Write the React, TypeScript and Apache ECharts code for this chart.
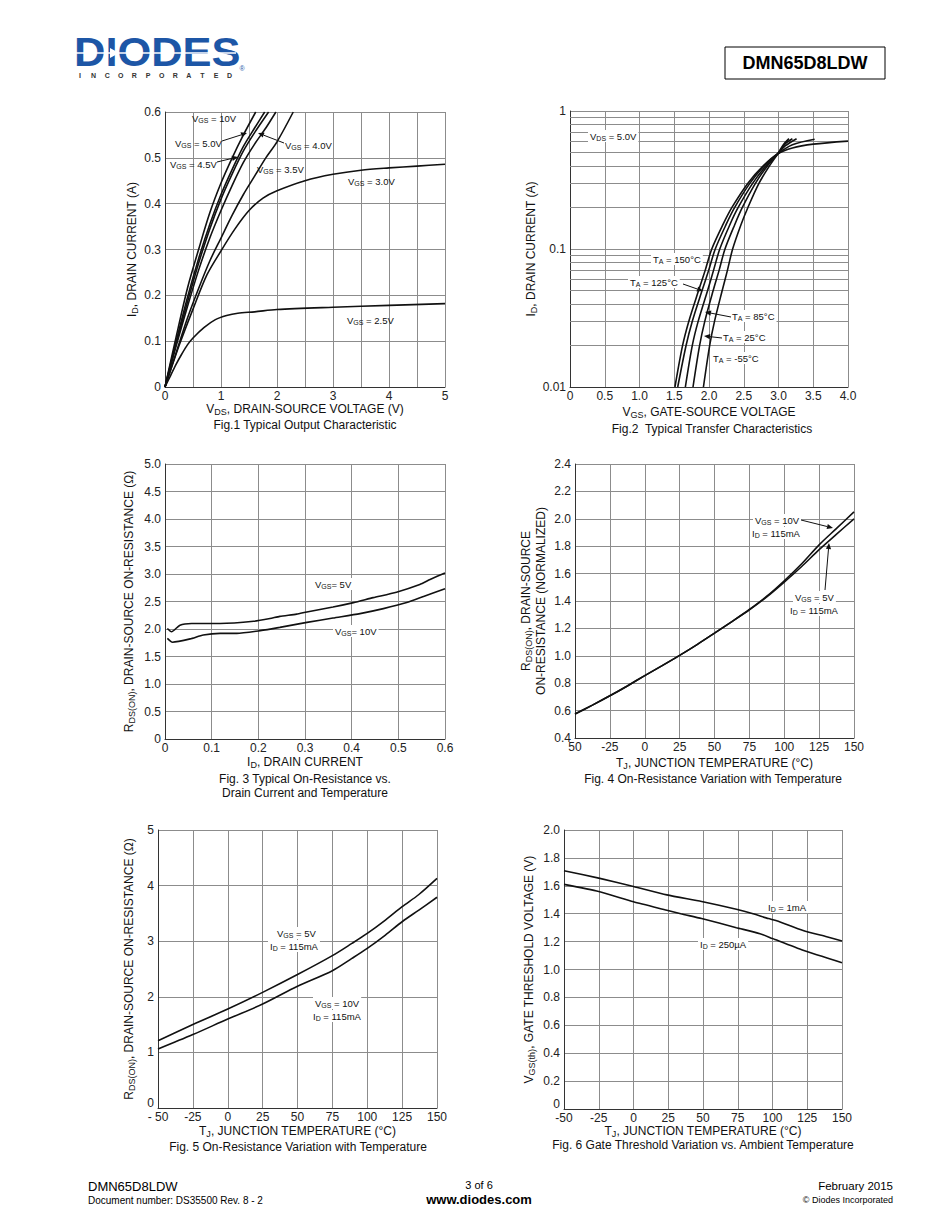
import React, { useEffect, useRef } from "react";
import * as echarts from "echarts";

const FONT = '"Liberation Sans", Arial, Helvetica, sans-serif';
const INK = "#111111";
const GRIDC = "#8c8c8c";

// ---------- Fig 1: [VDS (V), ID (A)] ----------
const fig1Vgs10 = [[0, 0], [0.2, 0.11], [0.4, 0.215], [0.6, 0.3], [0.8, 0.38], [1.0, 0.445], [1.2, 0.5], [1.4, 0.55], [1.62, 0.6]];
const fig1Vgs50 = [[0, 0], [0.2, 0.1], [0.4, 0.195], [0.6, 0.28], [0.8, 0.355], [1.0, 0.42], [1.2, 0.475], [1.4, 0.525], [1.6, 0.565], [1.78, 0.6]];
const fig1Vgs45 = [[0, 0], [0.2, 0.095], [0.4, 0.185], [0.6, 0.27], [0.8, 0.345], [1.0, 0.41], [1.2, 0.465], [1.4, 0.515], [1.6, 0.555], [1.85, 0.6]];
const fig1Vgs40 = [[0, 0], [0.2, 0.09], [0.4, 0.175], [0.6, 0.255], [0.8, 0.325], [1.0, 0.385], [1.2, 0.44], [1.4, 0.49], [1.6, 0.53], [1.8, 0.565], [1.98, 0.6]];
const fig1Vgs35 = [[0, 0], [0.2, 0.075], [0.4, 0.15], [0.6, 0.215], [0.8, 0.275], [1.0, 0.325], [1.2, 0.375], [1.4, 0.42], [1.6, 0.46], [1.8, 0.5], [2.0, 0.535], [2.29, 0.6]];
const fig1Vgs30 = [[0, 0], [0.25, 0.09], [0.5, 0.17], [0.75, 0.245], [1.0, 0.297], [1.25, 0.345], [1.5, 0.385], [1.75, 0.412], [2.0, 0.428], [2.5, 0.45], [3.0, 0.464], [3.5, 0.473], [4.0, 0.478], [4.5, 0.482], [5.0, 0.486]];
const fig1Vgs25 = [[0, 0], [0.1, 0.025], [0.2, 0.05], [0.3, 0.072], [0.4, 0.092], [0.5, 0.107], [0.7, 0.13], [0.9, 0.147], [1.1, 0.156], [1.3, 0.161], [1.6, 0.164], [2.0, 0.169], [3.0, 0.174], [4.0, 0.178], [5.0, 0.182]];

// ---------- Fig 2: [VGS (V), ID (A)] ----------
const fig2T150 = [[1.51, 0.01], [1.62, 0.02], [1.71, 0.03], [1.85, 0.05], [1.945, 0.07], [2.04, 0.1], [2.2, 0.15], [2.33, 0.2], [2.56, 0.3], [2.78, 0.4], [2.99, 0.49], [3.2, 0.54], [3.5, 0.575], [4.0, 0.605]];
const fig2T125 = [[1.55, 0.01], [1.67, 0.02], [1.76, 0.03], [1.9, 0.05], [1.995, 0.07], [2.09, 0.1], [2.245, 0.15], [2.37, 0.2], [2.59, 0.3], [2.795, 0.4], [2.99, 0.49], [3.2, 0.57], [3.52, 0.625]];
const fig2T85 = [[1.66, 0.01], [1.76, 0.02], [1.845, 0.03], [1.98, 0.05], [2.065, 0.07], [2.155, 0.1], [2.3, 0.15], [2.42, 0.2], [2.63, 0.3], [2.82, 0.4], [2.99, 0.49], [3.1, 0.56], [3.26, 0.63]];
const fig2T25 = [[1.77, 0.01], [1.865, 0.02], [1.94, 0.03], [2.06, 0.05], [2.145, 0.07], [2.23, 0.1], [2.37, 0.15], [2.48, 0.2], [2.67, 0.3], [2.84, 0.4], [2.99, 0.49], [3.1, 0.58], [3.2, 0.63]];
const fig2Tm55 = [[1.92, 0.01], [2.01, 0.02], [2.08, 0.03], [2.19, 0.05], [2.265, 0.07], [2.34, 0.1], [2.46, 0.15], [2.56, 0.2], [2.72, 0.3], [2.87, 0.4], [2.99, 0.49], [3.07, 0.57], [3.15, 0.63]];
const fig2MinorGrid = [0.02, 0.03, 0.04, 0.05, 0.06, 0.07, 0.08, 0.09, 0.2, 0.3, 0.4, 0.5, 0.6, 0.7, 0.8, 0.9];

// ---------- Fig 3: [ID (A), RDS(ON) (ohm)] ----------
const fig3Vgs5 = [[0.005, 2.01], [0.014, 1.95], [0.032, 2.07], [0.057, 2.1], [0.118, 2.1], [0.19, 2.14], [0.225, 2.19], [0.246, 2.23], [0.282, 2.27], [0.304, 2.31], [0.36, 2.4], [0.404, 2.48], [0.446, 2.57], [0.496, 2.67], [0.546, 2.81], [0.568, 2.9], [0.6, 3.02]];
const fig3Vgs10 = [[0.005, 1.83], [0.016, 1.76], [0.054, 1.82], [0.082, 1.89], [0.118, 1.92], [0.154, 1.92], [0.204, 1.97], [0.246, 2.03], [0.304, 2.12], [0.36, 2.2], [0.418, 2.28], [0.468, 2.37], [0.518, 2.48], [0.554, 2.59], [0.6, 2.73]];

// ---------- Fig 4: normalized RDS(ON) vs TJ ----------
const fig4Temp = [-50, -37.5, -25, -12.5, 0, 12.5, 25, 37.5, 50, 62.5, 75, 87.5, 100, 112.5, 125, 137.5, 150];
const fig4Vgs10 = [0.575, 0.64, 0.708, 0.78, 0.855, 0.928, 1.003, 1.082, 1.165, 1.25, 1.338, 1.435, 1.548, 1.672, 1.81, 1.93, 2.05];
const fig4Vgs5 = [0.575, 0.64, 0.708, 0.78, 0.855, 0.928, 1.003, 1.082, 1.165, 1.25, 1.335, 1.43, 1.538, 1.652, 1.775, 1.888, 2.0];

// ---------- Fig 5: RDS(ON) vs TJ ----------
const fig5Vgs5 = [[-50, 1.21], [-25, 1.5], [0, 1.78], [25, 2.08], [50, 2.4], [75, 2.74], [89, 2.96], [100, 3.14], [113, 3.38], [125, 3.62], [137, 3.84], [150, 4.13]];
const fig5Vgs10 = [[-50, 1.06], [-25, 1.32], [0, 1.6], [25, 1.87], [50, 2.19], [75, 2.47], [89, 2.69], [100, 2.87], [113, 3.11], [125, 3.35], [137, 3.56], [150, 3.79]];

// ---------- Fig 6: VGS(th) vs TJ ----------
const fig6Id1mA = [[-50, 1.708], [-25, 1.655], [0, 1.595], [24, 1.535], [49, 1.487], [74, 1.432], [86, 1.4], [97, 1.365], [103, 1.35], [122, 1.28], [139, 1.235], [150, 1.205]];
const fig6Id250uA = [[-50, 1.61], [-25, 1.559], [0, 1.485], [24, 1.425], [34, 1.4], [49, 1.365], [74, 1.3], [91, 1.257], [100, 1.222], [122, 1.138], [150, 1.049]];

// tick label texts
const tempTicksFig4: Record<string, string> = { "-50": "50" };
const tempTicksFig5: Record<string, string> = { "-50": "- 50" };

const AX_RICH: any = {
  m: { fontSize: 12, fontFamily: FONT, color: INK, lineHeight: 15 },
  s: { fontSize: 9, fontFamily: FONT, color: INK, lineHeight: 9, verticalAlign: "bottom" },
};
const ANN_RICH: any = {
  m: { fontSize: 9.5, fontFamily: FONT, fill: INK, color: INK, lineHeight: 12 },
  s: { fontSize: 7, fontFamily: FONT, fill: INK, color: INK, lineHeight: 7, verticalAlign: "bottom" },
};
const LIFT_RICH: any = {
  lo: { fontSize: 12, fontFamily: FONT, color: "#222", padding: [0, 0, 11, 0] },
};

const sub = (a: string, s: string, b: string) => `{m|${a}}{s|${s}}{m|${b}}`;

function valAxis(gridIndex: number, o: any) {
  return {
    type: "value",
    gridIndex,
    axisLine: { show: true, onZero: false, lineStyle: { color: "#333", width: 1 } },
    axisTick: { show: false },
    axisLabel: { fontFamily: FONT, fontSize: 12, color: "#222", margin: 3 },
    splitLine: { show: true, lineStyle: { color: GRIDC, width: 1 } },
    nameLocation: "middle",
    nameTextStyle: { rich: AX_RICH },
    ...o,
  };
}

function curve(data: any, idx: number, smooth: number | boolean = 0.3) {
  return {
    type: "line",
    xAxisIndex: idx,
    yAxisIndex: idx,
    data,
    showSymbol: false,
    symbol: "none",
    smooth,
    lineStyle: { color: INK, width: 1.6 },
    clip: true,
    silent: true,
    z: 5,
  };
}

function label(x: number, y: number, text: string, bg = false, align = "left") {
  return {
    type: "text",
    x,
    y,
    z: 50,
    silent: true,
    style: {
      text,
      rich: ANN_RICH,
      fill: INK,
      font: `9.5px ${FONT}`,
      align,
      textAlign: align,
      verticalAlign: "middle",
      textVerticalAlign: "middle",
      backgroundColor: bg ? "#ffffff" : undefined,
      padding: bg ? [0, 2, 0, 2] : 0,
    },
  };
}

function plain(x: number, y: number, text: string, font: string, align = "left", fill = INK) {
  return {
    type: "text",
    x,
    y,
    z: 50,
    silent: true,
    style: { text, font, fill, align, textAlign: align, verticalAlign: "middle", textVerticalAlign: "middle" },
  };
}

function arrow(x1: number, y1: number, x2: number, y2: number) {
  const dx = x2 - x1;
  const dy = y2 - y1;
  const len = Math.sqrt(dx * dx + dy * dy) || 1;
  const ux = dx / len;
  const uy = dy / len;
  const nx = -uy;
  const ny = ux;
  const hl = 6;
  const hw = 2.6;
  const bx = x2 - ux * hl;
  const by = y2 - uy * hl;
  return [
    { type: "line", z: 60, silent: true, shape: { x1, y1, x2: bx, y2: by }, style: { stroke: INK, lineWidth: 1 } },
    {
      type: "polygon",
      z: 60,
      silent: true,
      shape: { points: [[x2, y2], [bx + nx * hw, by + ny * hw], [bx - nx * hw, by - ny * hw]] },
      style: { fill: INK },
    },
  ];
}

function buildOption() {
  const grids = [
    { left: 165, top: 112, width: 280, height: 275 },
    { left: 570, top: 111, width: 278, height: 276 },
    { left: 165, top: 464, width: 280, height: 275 },
    { left: 575, top: 464, width: 279, height: 274 },
    { left: 158, top: 830, width: 279, height: 278 },
    { left: 564, top: 830, width: 278, height: 279 },
  ];

  const oneDec = (v: number) => (Math.abs(v) < 1e-9 ? "0" : v.toFixed(1));
  const lbl = (o: any) => ({ fontFamily: FONT, fontSize: 12, color: "#222", ...o });

  const xAxis = [
    valAxis(0, {
      min: 0, max: 5, interval: 0.5,
      axisLabel: lbl({ margin: 3, formatter: (v: number) => (Math.abs(v - Math.round(v)) < 1e-6 ? String(Math.round(v)) : "") }),
      name: sub("V", "DS", ", DRAIN-SOURCE VOLTAGE (V)"), nameGap: 13,
    }),
    valAxis(1, {
      min: 0, max: 4, interval: 0.5,
      axisLabel: lbl({ margin: 3, formatter: oneDec }),
      name: sub("V", "GS", ", GATE-SOURCE VOLTAGE"), nameGap: 17,
    }),
    valAxis(2, {
      min: 0, max: 0.6, interval: 0.1,
      axisLabel: lbl({ margin: 3, formatter: oneDec }),
      name: sub("I", "D", ", DRAIN CURRENT"), nameGap: 15,
    }),
    valAxis(3, {
      min: -50, max: 150, interval: 25,
      axisLabel: lbl({ margin: 3, formatter: (v: number) => tempTicksFig4[String(v)] ?? String(v) }),
      name: sub("T", "J", ", JUNCTION TEMPERATURE (°C)"), nameGap: 17,
    }),
    valAxis(4, {
      min: -50, max: 150, interval: 25,
      axisLabel: lbl({ margin: 3, formatter: (v: number) => tempTicksFig5[String(v)] ?? String(v) }),
      name: sub("T", "J", ", JUNCTION TEMPERATURE (°C)"), nameGap: 15,
    }),
    valAxis(5, {
      min: -50, max: 150, interval: 25,
      axisLabel: lbl({ margin: 3 }),
      name: sub("T", "J", ", JUNCTION TEMPERATURE (°C)"), nameGap: 11,
    }),
  ];

  const yAxis = [
    valAxis(0, {
      min: 0, max: 0.6, interval: 0.1,
      axisLabel: lbl({ margin: 4, formatter: oneDec }),
      name: sub("I", "D", ", DRAIN CURRENT (A)"), nameGap: 26,
    }),
    {
      ...valAxis(1, {
        name: sub("I", "D", ", DRAIN CURRENT (A)"), nameGap: 25,
        axisLabel: lbl({ margin: 4, formatter: (v: number) => (v < 0.05 ? "0.01" : v < 0.5 ? "0.1" : "1") }),
      }),
      type: "log", logBase: 10, min: 0.01, max: 1,
    },
    valAxis(2, {
      min: 0, max: 5, interval: 0.5,
      axisLabel: lbl({ margin: 4, formatter: oneDec }),
      name: sub("R", "DS(ON)", ", DRAIN-SOURCE ON-RESISTANCE (Ω)"), nameGap: 29,
    }),
    valAxis(3, {
      min: 0.4, max: 2.4, interval: 0.2,
      axisLabel: lbl({ margin: 4, formatter: oneDec }),
      name: sub("R", "DS(ON)", ", DRAIN-SOURCE") + "\n{m|ON-RESISTANCE (NORMALIZED)}", nameGap: 27,
    }),
    valAxis(4, {
      min: 0, max: 5, interval: 1,
      axisLabel: lbl({ margin: 4, rich: LIFT_RICH, formatter: (v: number) => (v === 0 ? "{lo|0}" : String(v)) }),
      name: sub("R", "DS(ON)", ", DRAIN-SOURCE ON-RESISTANCE (Ω)"), nameGap: 22,
    }),
    valAxis(5, {
      min: 0, max: 2, interval: 0.2,
      axisLabel: lbl({ margin: 4, rich: LIFT_RICH, formatter: (v: number) => (Math.abs(v) < 1e-9 ? "{lo|0}" : v.toFixed(1)) }),
      name: sub("V", "GS(th)", ", GATE THRESHOLD VOLTAGE (V)"), nameGap: 28,
    }),
  ];

  const zip = (xs: number[], ys: number[]) => xs.map((x, i) => [x, ys[i]]);

  const series: any[] = [
    curve(fig1Vgs10, 0), curve(fig1Vgs50, 0), curve(fig1Vgs45, 0), curve(fig1Vgs40, 0),
    curve(fig1Vgs35, 0), curve(fig1Vgs30, 0), curve(fig1Vgs25, 0),
    {
      type: "line", xAxisIndex: 1, yAxisIndex: 1, data: fig2T150, showSymbol: false, symbol: "none",
      lineStyle: { opacity: 0 }, silent: true, z: 1,
      markLine: {
        silent: true, symbol: ["none", "none"], label: { show: false }, animation: false,
        lineStyle: { color: GRIDC, type: "solid", width: 1 },
        data: fig2MinorGrid.map((v) => ({ yAxis: v })),
      },
    },
    curve(fig2T150, 1), curve(fig2T125, 1), curve(fig2T85, 1), curve(fig2T25, 1), curve(fig2Tm55, 1),
    curve(fig3Vgs5, 2, 0.2), curve(fig3Vgs10, 2, 0.2),
    curve(zip(fig4Temp, fig4Vgs10), 3), curve(zip(fig4Temp, fig4Vgs5), 3),
    curve(fig5Vgs5, 4), curve(fig5Vgs10, 4),
    curve(fig6Id1mA, 5, 0.2), curve(fig6Id250uA, 5, 0.2),
  ];

  const graphics: any[] = [];
  // Fig 1 annotations
  graphics.push(label(192, 118, sub("V", "GS", " = 10V")));
  graphics.push(label(175, 143, sub("V", "GS", " = 5.0V")), ...arrow(222, 141, 247, 133));
  graphics.push(label(170, 164, sub("V", "GS", " = 4.5V")), ...arrow(217, 162, 238, 157));
  graphics.push(label(285, 145, sub("V", "GS", " = 4.0V")), ...arrow(284, 143, 258, 133));
  graphics.push(label(257, 169, sub("V", "GS", " = 3.5V")));
  graphics.push(label(348, 181, sub("V", "GS", " = 3.0V")));
  graphics.push(label(347, 320, sub("V", "GS", " = 2.5V")));
  // Fig 2 annotations
  graphics.push(label(588, 136, sub("V", "DS", " = 5.0V"), true));
  graphics.push(label(651, 259, sub("T", "A", " = 150°C"), true));
  graphics.push(label(628, 282, sub("T", "A", " = 125°C"), true), ...arrow(683, 284, 703, 291));
  graphics.push(label(730, 316, sub("T", "A", " = 85°C"), true), ...arrow(731, 317, 705, 312));
  graphics.push(label(721, 337, sub("T", "A", " = 25°C"), true), ...arrow(722, 338, 704, 336));
  graphics.push(label(711, 358, sub("T", "A", " = -55°C"), true));
  // Fig 3
  graphics.push(label(313, 584, sub("V", "GS", "= 5V"), true));
  graphics.push(label(333, 631, sub("V", "GS", "= 10V"), true));
  // Fig 4
  graphics.push(label(753, 520, sub("V", "GS", " = 10V"), true), label(750, 533, sub("I", "D", " = 115mA"), true));
  graphics.push(...arrow(801, 520, 833, 528));
  graphics.push(label(793, 597, sub("V", "GS", " = 5V"), true), label(788, 610, sub("I", "D", " = 115mA"), true));
  graphics.push(...arrow(825, 590, 829, 543));
  // Fig 5
  graphics.push(label(275, 933, sub("V", "GS", " = 5V"), true), label(268, 946, sub("I", "D", " = 115mA"), true));
  graphics.push(label(313, 1003, sub("V", "GS", " = 10V"), true), label(311, 1016, sub("I", "D", " = 115mA"), true));
  // Fig 6
  graphics.push(label(766, 907, sub("I", "D", " = 1mA"), true));
  graphics.push(label(698, 944, sub("I", "D", " = 250µA"), true));

  // Captions
  const cap = `12px ${FONT}`;
  graphics.push(plain(305, 425, "Fig.1 Typical Output Characteristic", cap, "center"));
  graphics.push(plain(712, 429, "Fig.2  Typical Transfer Characteristics", cap, "center"));
  graphics.push(plain(305, 779, "Fig. 3 Typical On-Resistance vs.", cap, "center"));
  graphics.push(plain(305, 793, "Drain Current and Temperature", cap, "center"));
  graphics.push(plain(713, 779, "Fig. 4 On-Resistance Variation with Temperature", cap, "center"));
  graphics.push(plain(298, 1147, "Fig. 5 On-Resistance Variation with Temperature", cap, "center"));
  graphics.push(plain(703, 1145, "Fig. 6 Gate Threshold Variation vs. Ambient Temperature", cap, "center"));

  // Header: logo
  graphics.push({
    type: "text", x: 74, y: 52, z: 50, silent: true, scaleX: 1.06,
    style: { text: "DIODES", font: `bold 41px ${FONT}`, fill: "#1d56a6", align: "left", textAlign: "left", verticalAlign: "middle", textVerticalAlign: "middle" },
  });
  graphics.push({ type: "line", z: 55, silent: true, shape: { x1: 76, y1: 53, x2: 236, y2: 53 }, style: { stroke: "#ffffff", lineWidth: 1.5 } });
  graphics.push({ type: "polygon", z: 56, silent: true, shape: { points: [[110, 48], [110, 58], [119, 53]] }, style: { fill: "#ffffff" } });
  const inc = "INCORPORATED".split("");
  inc.forEach((ch, i) => graphics.push(plain(80 + i * 13.6, 75, ch, `bold 7px ${FONT}`, "center", "#333")));
  graphics.push(plain(242, 68, "®", `7px ${FONT}`, "center", "#1d56a6"));
  // Part number box
  graphics.push({ type: "rect", z: 50, silent: true, shape: { x: 725, y: 47, width: 160, height: 32 }, style: { fill: "none", stroke: "#000", lineWidth: 1 } });
  graphics.push(plain(805, 63, "DMN65D8LDW", `bold 18px ${FONT}`, "center", "#000"));

  // Footer
  graphics.push(plain(88, 1186, "DMN65D8LDW", `13px ${FONT}`, "left", "#000"));
  graphics.push(plain(88, 1200, "Document number: DS35500 Rev. 8 - 2", `10px ${FONT}`, "left", "#000"));
  graphics.push(plain(479, 1185, "3 of 6", `11px ${FONT}`, "center", "#000"));
  graphics.push(plain(479, 1199, "www.diodes.com", `bold 13px ${FONT}`, "center", "#000"));
  graphics.push(plain(893, 1186, "February 2015", `11.5px ${FONT}`, "right", "#000"));
  graphics.push(plain(893, 1200, "© Diodes Incorporated", `9px ${FONT}`, "right", "#000"));

  return {
    animation: false,
    backgroundColor: "#ffffff",
    textStyle: { fontFamily: FONT },
    grid: grids,
    xAxis,
    yAxis,
    series,
    graphic: { elements: graphics },
  };
}

export default function App() {
  const ref = useRef<HTMLDivElement>(null);
  useEffect(() => {
    if (!ref.current) return;
    const chart = echarts.init(ref.current, undefined, { renderer: "svg" });
    chart.setOption(buildOption() as any);
    return () => chart.dispose();
  }, []);
  return (
    <div
      ref={ref}
      style={{ position: "absolute", left: 0, top: 0, width: 950, height: 1230, background: "#fff" }}
    />
  );
}
